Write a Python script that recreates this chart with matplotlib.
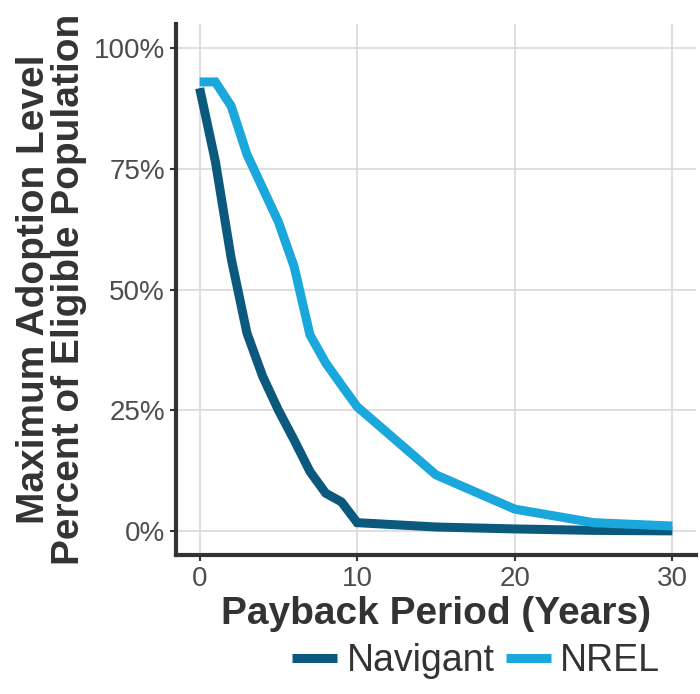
import matplotlib
matplotlib.use("Agg")
from matplotlib import pyplot as plt
from matplotlib.ticker import FuncFormatter

plt.rcParams['font.family'] = ['Liberation Sans', 'DejaVu Sans']

# payback period in years
navigant_years = [0, 1, 2, 3, 4, 5, 6, 7, 8, 9, 10, 15, 20, 25, 30]
navigant_share = [91.7, 76.5, 56.5, 41.0, 32.0, 25.0, 18.8, 12.3, 7.8, 6.0, 1.7, 0.8, 0.4, 0.1, 0.0]

nrel_years = [0, 1, 2, 3, 4, 5, 6, 7, 8, 9, 10, 15, 20, 25, 30]
nrel_share = [93.0, 93.0, 88.0, 78.0, 71.0, 64.0, 54.7, 40.6, 34.8, 30.2, 25.7, 11.6, 4.5, 1.7, 1.0]

x_ticks = [0, 10, 20, 30]
y_ticks = [0, 25, 50, 75, 100]

navy = '#0b5a7e'
sky = '#1aa7db'
dark = '#333333'

fig = plt.figure(figsize=(7.0, 6.94), dpi=100)
ax = fig.add_axes([176 / 700, 139 / 694, 520 / 700, 531 / 694])

ax.plot(navigant_years, navigant_share, color=navy, lw=6.5, solid_joinstyle='miter',
        solid_capstyle='butt', label='Navigant')
ax.plot(nrel_years, nrel_share, color=sky, lw=6.5, solid_joinstyle='miter',
        solid_capstyle='butt', label='NREL')

ax.set_xlim(-1.5, 31.5)
ax.set_ylim(-5, 105)
ax.set_xticks(x_ticks)
ax.set_yticks(y_ticks)
ax.yaxis.set_major_formatter(FuncFormatter(lambda v, p: '{:d}%'.format(int(v))))

ax.grid(True, color='#d9d9d9', lw=1.2)
ax.set_axisbelow(True)
for side in ['top', 'right']:
    ax.spines[side].set_visible(False)
for side in ['left', 'bottom']:
    ax.spines[side].set_color(dark)
    ax.spines[side].set_linewidth(3)
ax.tick_params(length=4, width=1.5, color=dark, labelsize=20, labelcolor='#4d4d4d', pad=4)

ax.set_xlabel('Payback Period (Years)', fontsize=28, fontweight='bold', color=dark, labelpad=3)
ax.set_ylabel('Maximum Adoption Level\nPercent of Eligible Population', fontsize=28,
              fontweight='bold', color=dark, labelpad=5, linespacing=0.95)

leg = fig.legend(loc='center', bbox_to_anchor=(476 / 700, 1 - 661 / 694), ncol=2, frameon=False,
                 fontsize=27, handlelength=1.2, handletextpad=0.25, columnspacing=0.3)
for t in leg.get_texts():
    t.set_color(dark)

fig.savefig('out.png', dpi=100)
